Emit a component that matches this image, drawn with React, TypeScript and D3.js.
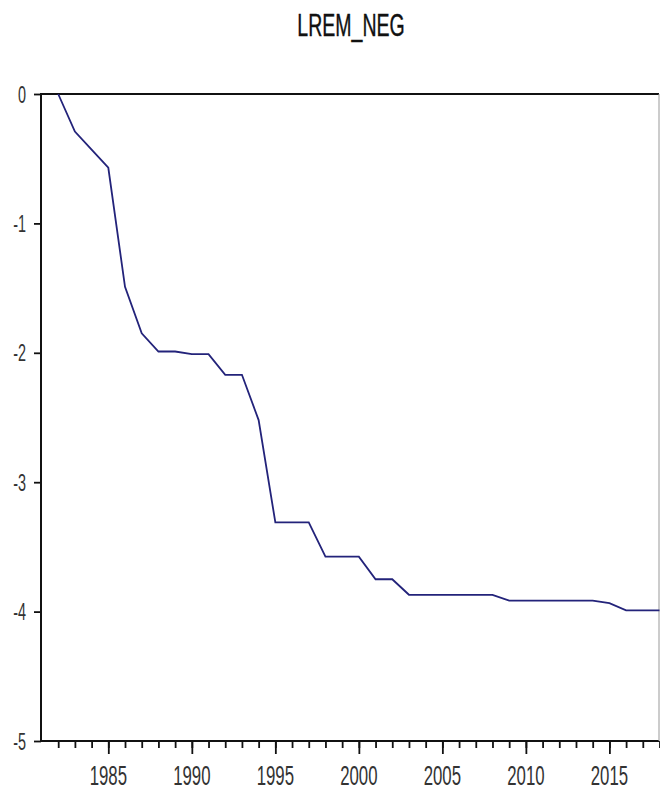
import * as d3 from 'd3';
import React, { useRef, useEffect } from 'react';

const years = [
  1982, 1983, 1984, 1985, 1986, 1987, 1988, 1989, 1990, 1991, 1992, 1993,
  1994, 1995, 1996, 1997, 1998, 1999, 2000, 2001, 2002, 2003, 2004, 2005,
  2006, 2007, 2008, 2009, 2010, 2011, 2012, 2013, 2014, 2015, 2016, 2017,
  2018,
];
const lremNeg = [
  0, -0.29, -0.43, -0.57, -1.49, -1.85, -1.99, -1.99, -2.01, -2.01, -2.17,
  -2.17, -2.52, -3.31, -3.31, -3.31, -3.575, -3.575, -3.575, -3.75, -3.75,
  -3.87, -3.87, -3.87, -3.87, -3.87, -3.87, -3.915, -3.915, -3.915, -3.915,
  -3.915, -3.915, -3.935, -3.99, -3.99, -3.99,
];
const yTicks = [0, -1, -2, -3, -4, -5];
const xLabels = [1985, 1990, 1995, 2000, 2005, 2010, 2015];
const title = 'LREM_NEG';

function LremChart() {
  const svgRef = useRef<SVGSVGElement>(null);

  useEffect(() => {
    const left = 41;
    const right = 659;
    const top = 94;
    const bottom = 741;
    const font = "'Liberation Sans', Arial, sans-serif";

    const svg = d3.select(svgRef.current);
    svg.selectAll('*').remove();

    /* Scales */
    const xScale = d3.scaleLinear().domain([1981, 2018]).range([41.5, 659.5]);
    const yScale = d3.scaleLinear().domain([-5, 0]).range([bottom, top]);

    svg.append('rect').attr('width', 660).attr('height', 793).attr('fill', '#fff');

    /* Title */
    svg
      .append('g')
      .attr('transform', `translate(${(left + right) / 2 + 1}, 36) scale(0.63, 1)`)
      .append('text')
      .attr('text-anchor', 'middle')
      .attr('font-family', font)
      .attr('font-size', 31)
      .attr('fill', '#111')
      .attr('stroke', '#111')
      .attr('stroke-width', 0.4)
      .text(title);

    /* Axes (ticks only, frame drawn below) */
    const minorAxis = d3
      .axisBottom(xScale)
      .tickValues(years)
      .tickSize(7)
      .tickSizeOuter(0)
      .tickFormat(() => '');
    const majorAxis = d3
      .axisBottom(xScale)
      .tickValues(xLabels)
      .tickSize(13)
      .tickSizeOuter(0)
      .tickFormat(() => '');
    const yAxis = d3
      .axisLeft(yScale)
      .tickValues(yTicks)
      .tickSize(7)
      .tickSizeOuter(0)
      .tickFormat(() => '');

    [minorAxis, majorAxis].forEach((ax) => {
      const g = svg.append('g').attr('transform', `translate(0, ${bottom})`).call(ax);
      g.select('.domain').remove();
      g.selectAll('line').attr('stroke', '#111').attr('stroke-width', 1.8);
    });
    const gy = svg.append('g').attr('transform', `translate(${left}, 0)`).call(yAxis);
    gy.select('.domain').remove();
    gy.selectAll('line').attr('stroke', '#111').attr('stroke-width', 1.8);

    /* Tick labels, narrow like the original */
    svg
      .selectAll('.xlab')
      .data(xLabels)
      .enter()
      .append('g')
      .attr('transform', (d) => `translate(${xScale(d)}, 785) scale(0.6, 1)`)
      .append('text')
      .attr('text-anchor', 'middle')
      .attr('font-family', font)
      .attr('font-size', 28)
      .attr('fill', '#333')
      .text((d) => d);

    svg
      .selectAll('.ylab')
      .data(yTicks)
      .enter()
      .append('g')
      .attr('transform', (d) => `translate(26, ${yScale(d) + 8.5}) scale(0.6, 1)`)
      .append('text')
      .attr('text-anchor', 'end')
      .attr('font-family', font)
      .attr('font-size', 24)
      .attr('fill', '#333')
      .text((d) => d);

    /* Frame */
    svg
      .append('path')
      .attr('d', `M${right},${top}H${left}V${bottom}H${right}`)
      .attr('fill', 'none')
      .attr('stroke', '#111')
      .attr('stroke-width', 2);
    svg
      .append('line')
      .attr('x1', right)
      .attr('x2', right)
      .attr('y1', top)
      .attr('y2', bottom)
      .attr('stroke', '#999')
      .attr('stroke-width', 1);

    /* Series line */
    const line = d3
      .line<number>()
      .x((d, i) => xScale(years[i]))
      .y((d) => yScale(d));

    svg
      .append('path')
      .datum(lremNeg)
      .attr('fill', 'none')
      .attr('stroke', '#23237a')
      .attr('stroke-width', 1.8)
      .attr('d', line);
  }, []);

  return (
    <svg
      ref={svgRef}
      width={660}
      height={793}
      style={{ position: 'absolute', left: 0, top: 0, display: 'block' }}
    ></svg>
  );
}

export default function App() {
  return <LremChart />;
}
